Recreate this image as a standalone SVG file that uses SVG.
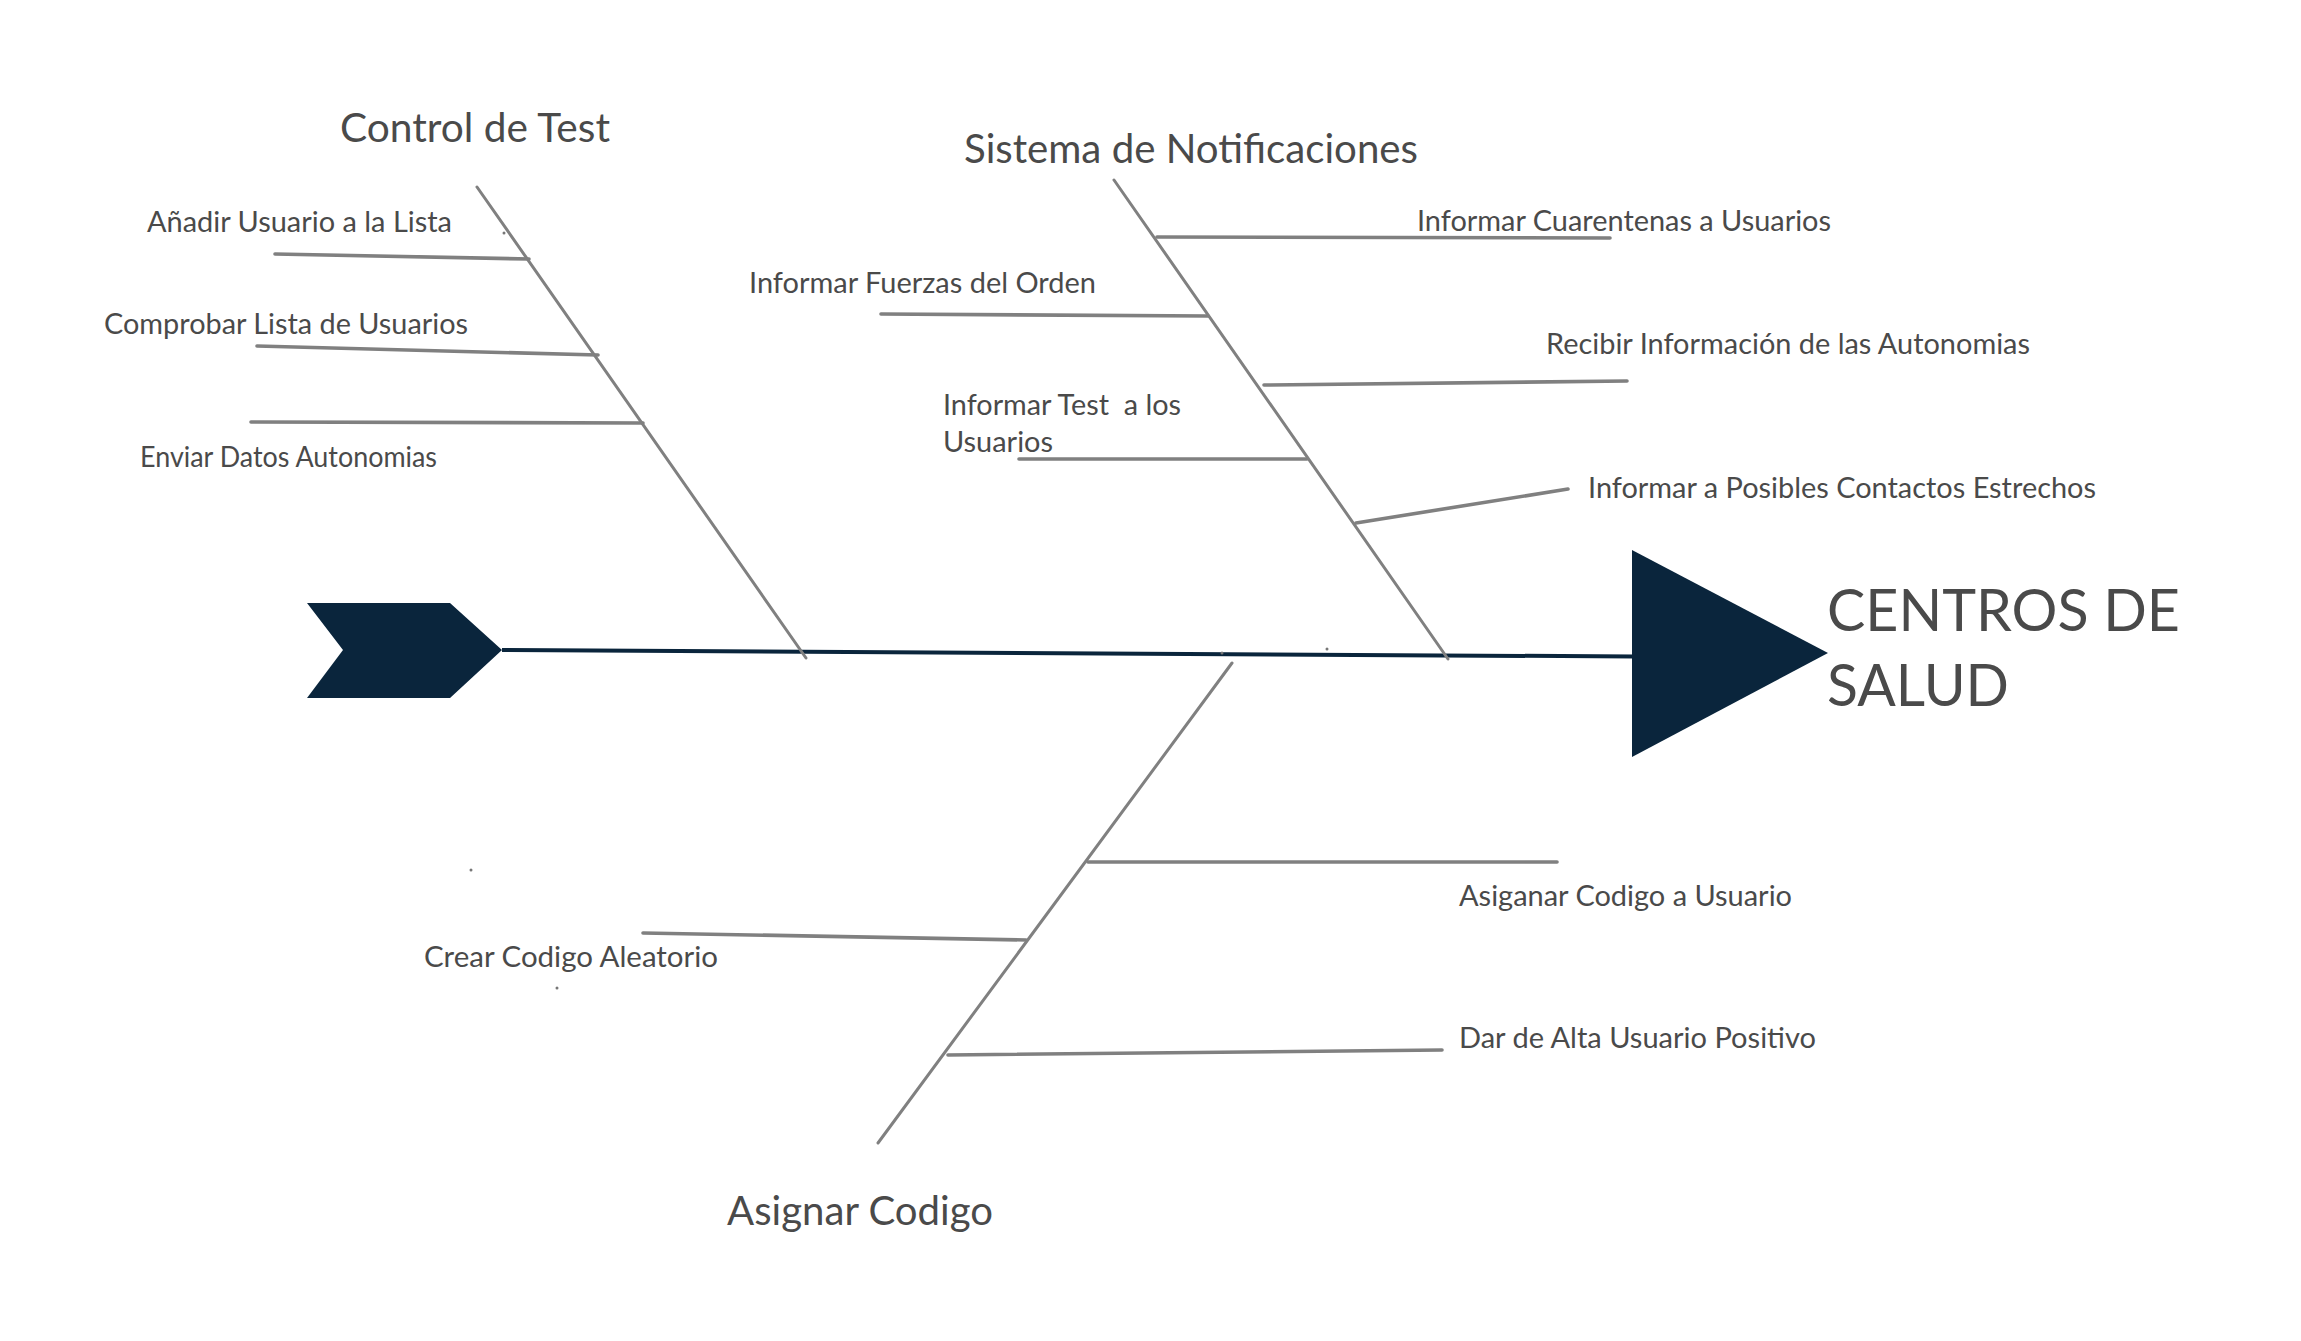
<svg xmlns="http://www.w3.org/2000/svg" width="2301" height="1341" viewBox="0 0 2301 1341">
<style>
.t{font-family:Lato,"Open Sans","Liberation Sans",sans-serif;fill:#4a4a4a}
.s{font-size:28.6px}
.h{font-size:40px}
.big{font-size:57.5px}
.c{stroke:#808080;stroke-width:3;stroke-linecap:round;fill:none}
.b{stroke:#808080;stroke-width:3.6;stroke-linecap:round;fill:none}
.navy{fill:#0a253c}
.dot{fill:#777}
</style>
<rect width="2301" height="1341" fill="#ffffff"/>
<g id="connectors">
<path d="M502,650 L1634,656.5" stroke="#0a253c" stroke-width="4" fill="none"/>
<path class="c" d="M477,187 L806,658"/>
<path class="c" d="M1114,180 L1448,659"/>
<path class="c" d="M1232,663 L878,1143"/>
<path class="b" d="M275,254 L529,259"/>
<path class="b" d="M257,346 L598,355"/>
<path class="b" d="M251,422 L643,423"/>
<path class="b" d="M1157,237 L1610,238"/>
<path class="b" d="M881,314 L1208,316"/>
<path class="b" d="M1264,385 L1627,381"/>
<path class="b" d="M1019,459 L1307,459"/>
<path class="b" d="M1356,523 L1568,489"/>
<path class="b" d="M1088,862 L1557,862"/>
<path class="b" d="M643,933 L1026,940"/>
<path class="b" d="M948,1055 L1442,1050"/>
</g>
<g id="tail"><polygon class="navy" points="307,603 450,603 502,650 450,698 307,698 343,650"/></g>
<g id="head">
<polygon class="navy" points="1632,550 1828,653 1632,757"/>
<text class="t big" x="1827" y="631" textLength="353" lengthAdjust="spacingAndGlyphs">CENTROS DE</text>
<text class="t big" x="1827" y="706" textLength="182" lengthAdjust="spacingAndGlyphs">SALUD</text>
</g>
<g id="cat-control"><text class="t h" x="340" y="142" textLength="270" lengthAdjust="spacingAndGlyphs">Control de Test</text></g>
<g id="cat-notif"><text class="t h" x="964" y="163" textLength="454" lengthAdjust="spacingAndGlyphs">Sistema de Notificaciones</text></g>
<g id="cat-codigo"><text class="t h" x="727" y="1225" textLength="266" lengthAdjust="spacingAndGlyphs">Asignar Codigo</text></g>
<g id="c1"><text class="t s" x="147" y="232" textLength="305" lengthAdjust="spacingAndGlyphs">Añadir Usuario a la Lista</text></g>
<g id="c2"><text class="t s" x="104" y="334" textLength="364" lengthAdjust="spacingAndGlyphs">Comprobar Lista de Usuarios</text></g>
<g id="c3"><text class="t s" x="140" y="467" textLength="297" lengthAdjust="spacingAndGlyphs">Enviar Datos Autonomias</text></g>
<g id="n1"><text class="t s" x="749" y="293" textLength="347" lengthAdjust="spacingAndGlyphs">Informar Fuerzas del Orden</text></g>
<g id="n2"><text class="t s" x="943" y="415" xml:space="preserve" textLength="238" lengthAdjust="spacingAndGlyphs">Informar Test  a los</text><text class="t s" x="943" y="452" textLength="110" lengthAdjust="spacingAndGlyphs">Usuarios</text></g>
<g id="n3"><text class="t s" x="1417" y="231" textLength="414" lengthAdjust="spacingAndGlyphs">Informar Cuarentenas a Usuarios</text></g>
<g id="n4"><text class="t s" x="1546" y="354" textLength="484" lengthAdjust="spacingAndGlyphs">Recibir Información de las Autonomias</text></g>
<g id="n5"><text class="t s" x="1588" y="498" textLength="508" lengthAdjust="spacingAndGlyphs">Informar a Posibles Contactos Estrechos</text></g>
<g id="a1"><text class="t s" x="1459" y="906" textLength="333" lengthAdjust="spacingAndGlyphs">Asiganar Codigo a Usuario</text></g>
<g id="a2"><text class="t s" x="424" y="967" textLength="294" lengthAdjust="spacingAndGlyphs">Crear Codigo Aleatorio</text></g>
<g id="a3"><text class="t s" x="1459" y="1048" textLength="357" lengthAdjust="spacingAndGlyphs">Dar de Alta Usuario Positivo</text></g>
<g id="marks">
<circle class="dot" cx="504" cy="233" r="1.5"/>
<circle class="dot" cx="471" cy="870" r="1.5"/>
<circle class="dot" cx="557" cy="988" r="1.5"/>
<circle class="dot" cx="1222" cy="653" r="1.5"/>
<circle class="dot" cx="1327" cy="649" r="1.5"/>
</g>
</svg>
